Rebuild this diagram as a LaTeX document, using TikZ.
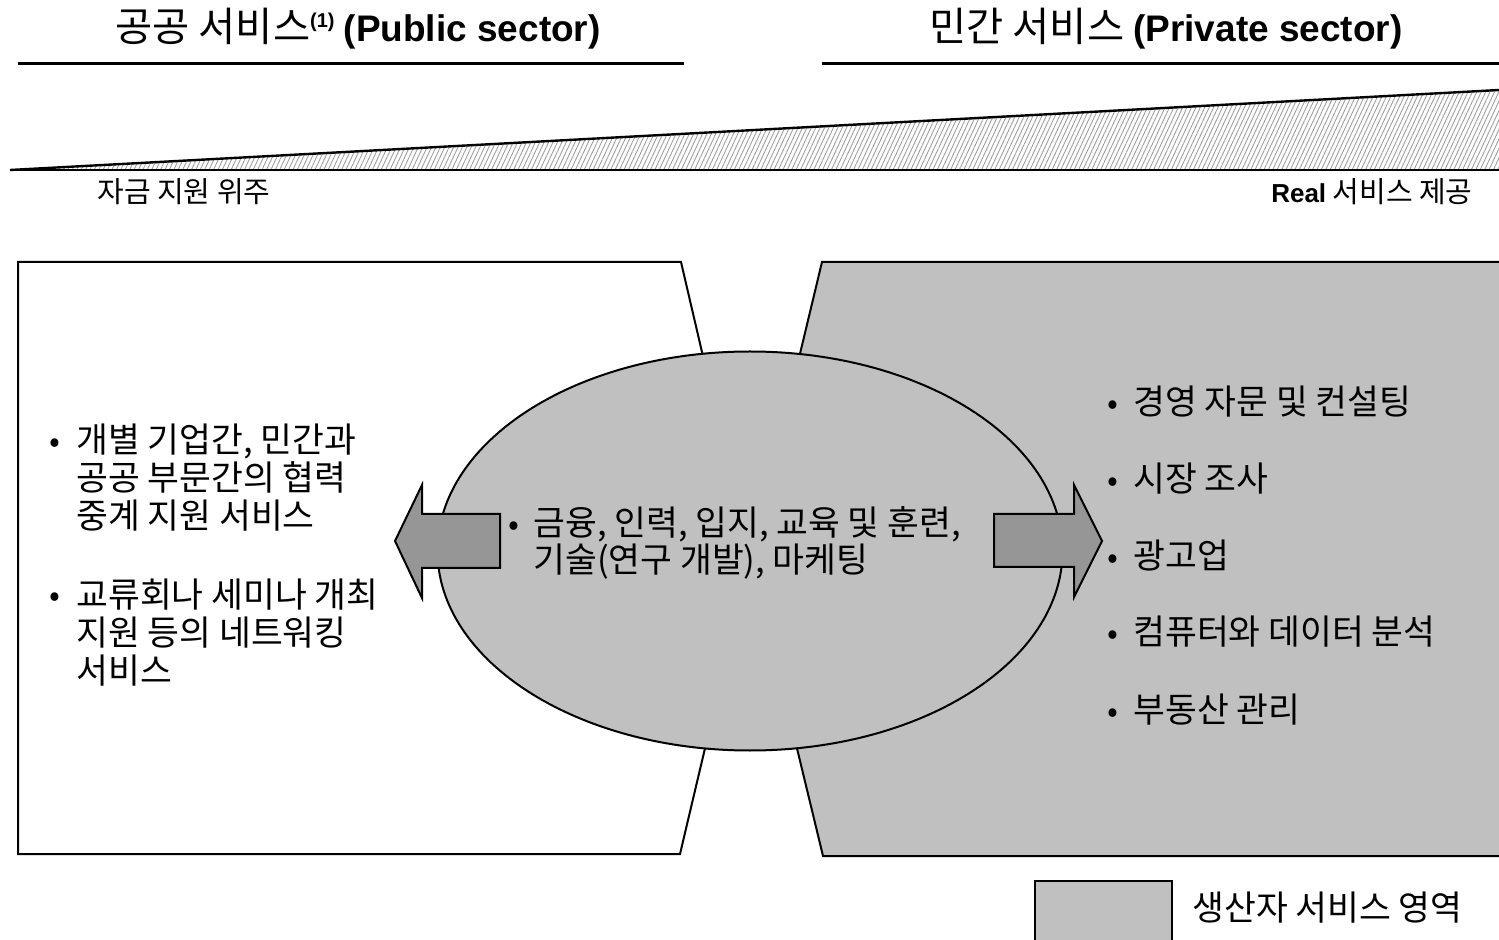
\documentclass[tikz,border=0pt]{standalone}
\usepackage{fontspec}
\setmainfont{Noto Sans CJK KR}
\newfontfamily\arial{Liberation Sans}
\usetikzlibrary{patterns.meta}

\definecolor{areagray}{RGB}{192,192,192}
\definecolor{arrowgray}{RGB}{150,150,150}

\begin{document}
\begin{tikzpicture}[x=0.5pt, y=-0.5pt,
  title/.style={font=\fontsize{20.2}{22}\selectfont, inner sep=0pt, anchor=base},
  small/.style={font=\fontsize{14.5}{16}\selectfont, inner sep=0pt},
  body/.style={font=\fontsize{17.3}{19}\selectfont, inner sep=0pt, align=left, anchor=base west},
  dot/.style={font=\fontsize{16}{19}\selectfont, inner sep=0pt, anchor=base},
  box/.style={draw, line width=1pt},
  arrowshape/.style={draw, line width=1pt, fill=arrowgray}]
\useasboundingbox (0,0) rectangle (1499,940);

% headings
\node[title] (pubtitle) at (358,42) {공공 서비스{\arial\bfseries\fontsize{10}{12}\selectfont\raisebox{7pt}{(1)}} {\arial\bfseries\fontsize{18.5}{22}\selectfont (Public sector)}};
\node[title] (privtitle) at (1166,42) {민간 서비스 {\arial\bfseries\fontsize{18.5}{22}\selectfont (Private sector)}};
\draw[line width=1.5pt] (18,64) -- (684,64);
\draw[line width=1.5pt] (822,64) -- (1499,64);

% wedge
\fill[pattern={Lines[angle=65, distance=2pt, line width=0.45pt]}, pattern color=gray!75] (10,170) -- (1499,90) -- (1499,170) -- cycle;
\draw[line width=1.2pt] (10,170) -- (1499,90);
\draw[line width=1.2pt] (10,170) -- (1499,170);
\node[small, anchor=base west] (fund) at (97,203) {자금 지원 위주};
\node[small, anchor=base east] (real) at (1473,203) {{\arial\bfseries\fontsize{13}{15}\selectfont Real} 서비스 제공};

% boxes
\draw[box, fill=white] (18,262) -- (681,262) -- (750,558) -- (680,854) -- (18,854) -- cycle;
\draw[box, fill=areagray] (822,262) -- (1510,262) -- (1510,856) -- (823,856) -- (751,558) -- cycle;
\draw[box, fill=areagray] (750,551) ellipse [x radius=312.5, y radius=199.5];

% arrows
\draw[arrowshape] (395,541) -- (422,485) -- (422,514) -- (500,514) -- (500,568) -- (422,568) -- (422,598) -- cycle;
\draw[arrowshape] (1102,541) -- (1074,485) -- (1074,514) -- (994,514) -- (994,567) -- (1074,567) -- (1074,597) -- cycle;

% public side (base = last line)
\node[dot] (pubdotA) at (55,453) {•};
\node[body] (pubA) at (76,529) {개별 기업간, 민간과\\공공 부문간의 협력\\중계 지원 서비스};
\node[dot] (pubdotB) at (55,607) {•};
\node[body] (pubB) at (76,683) {교류회나 세미나 개최\\지원 등의 네트워킹\\서비스};

% middle
\node[dot] (middot) at (514,536) {•};
\node[body, font=\fontsize{17.3}{18.5}\selectfont] (mid) at (533,573) {금융, 인력, 입지, 교육 및 훈련,\\기술(연구 개발), 마케팅};

% private side
\node[dot] (privdotA) at (1113,415) {•};
\node[body] (privA) at (1133,415) {경영 자문 및 컨설팅};
\node[dot] (privdotB) at (1113,492) {•};
\node[body] (privB) at (1133,492) {시장 조사};
\node[dot] (privdotC) at (1113,569) {•};
\node[body] (privC) at (1133,569) {광고업};
\node[dot] (privdotD) at (1113,645) {•};
\node[body] (privD) at (1133,645) {컴퓨터와 데이터 분석};
\node[dot] (privdotE) at (1113,722) {•};
\node[body] (privE) at (1133,722) {부동산 관리};

% legend
\draw[box, fill=areagray] (1035,881) rectangle (1172,960);
\node[body] (legend) at (1192,920) {생산자 서비스 영역};
\end{tikzpicture}
\end{document}
